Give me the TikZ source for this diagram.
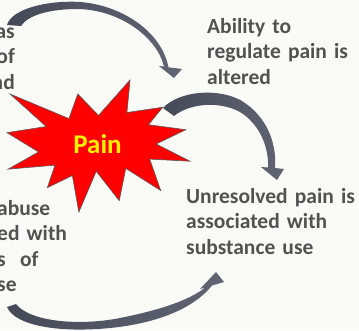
\documentclass[tikz,border=0pt]{standalone}
\usepackage{fontspec}
\setmainfont{Carlito}
\definecolor{bg}{RGB}{250,250,247}
\definecolor{txt}{RGB}{82,82,82}
\definecolor{arrdark}{RGB}{70,74,88}
\definecolor{arrlight}{RGB}{96,100,115}
\definecolor{starline}{RGB}{90,90,90}
\begin{document}
\begin{tikzpicture}[x=1pt,y=-1pt,
  lbl/.style={font=\fontsize{21.5}{25.5}\selectfont\bfseries, text=txt, inner sep=0pt},
  burst/.style={fill=red, draw=starline, line width=0.6pt, line join=miter}]
\useasboundingbox (0,0) rectangle (359,330);
\fill[bg] (0,0) rectangle (359,330);
\begin{scope}
\clip (0,0) rectangle (359,330);
% explosion shape
\begin{scope}[shift={(7,80)}, x=0.847222pt, y=-0.611111pt]
\draw[burst] (108,58) -- (145.22,0) -- (141.55,53.25) -- (183.80,44.57) -- (167.02,73.15)
  -- (210.97,81.37) -- (176.07,104.75) -- (216,132.90) -- (168.37,129.42) -- (181.45,180.95)
  -- (140.20,144.57) -- (132.47,197.37) -- (105.32,149.35) -- (84.85,216) -- (77.15,156.27)
  -- (47.62,176.17) -- (56.67,139.37) -- (1.35,145.87) -- (37.22,117.75) -- (0,86.15)
  -- (46.27,76.17) -- (3.70,22.95) -- (73.12,63.20) -- (83.52,22.95) -- cycle;
\end{scope}
\node[font=\fontsize{27}{30}\selectfont\bfseries, text=yellow, inner sep=0pt] (pain) at (97.5,144) {Pain};
% top arrow
\shade[left color=arrdark, right color=arrlight] (7,25) .. controls (12,8) and (50,0) .. (80,2)
  .. controls (120,5) and (161,30) .. (168.5,67.3)
  -- (182,69) -- (174,78) -- (159,66) -- (164,66.6)
  .. controls (157,37) and (120,10) .. (78,9)
  .. controls (50,9) and (28,15) .. (21,26) -- cycle;
% right arrow
\shade[left color=arrdark, right color=arrlight] (163,108) .. controls (180,90) and (220,88) .. (242,101)
  .. controls (266,116) and (277,142) .. (275,168)
  -- (284,169) -- (277,180) -- (261,167) -- (268,167.5)
  .. controls (269,145) and (258,123) .. (240,112)
  .. controls (220,101) and (190,103) .. (174,116) -- cycle;
% bottom arrow
\shade[left color=arrdark, right color=arrlight] (16,304) .. controls (30,322) and (80,326) .. (120,318)
  .. controls (160,310) and (190,300) .. (205,287.5)
  -- (200,289) -- (216,272) -- (224,282) -- (212,285.5)
  .. controls (195,307) and (160,323) .. (110,328)
  .. controls (60,333) and (15,326) .. (7,307) -- cycle;
% texts
\node[lbl, anchor=base west, text width=160pt, align=left] (t1) at (207,33) {Ability to\\regulate pain is\\altered};
\node[lbl, anchor=base west, text width=175pt, align=left] (t2) at (186,203) {Unresolved pain is\\associated with\\substance use};
\node[lbl, anchor=base east, text width=60pt, align=right] (t3) at (15,38) {as\\of\\nd};
\node[lbl, anchor=base west, text width=100pt, align=left] (t4) at (-3,215) {abuse\\ed with\\s\ \ of\\se};
\end{scope}
\end{tikzpicture}
\end{document}
